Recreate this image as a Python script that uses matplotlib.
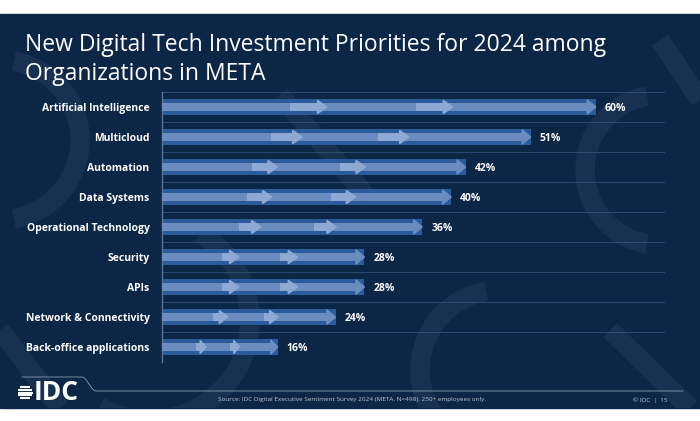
import matplotlib
matplotlib.use("Agg")
import matplotlib.pyplot as plt
from matplotlib.patches import Rectangle, Polygon, Arc
import numpy as np

categories = ["Artificial Intelligence", "Multicloud", "Automation", "Data Systems",
              "Operational Technology", "Security", "APIs", "Network & Connectivity",
              "Back-office applications"]
values = [60, 51, 42, 40, 36, 28, 28, 24, 16]
title_lines = ["New Digital Tech Investment Priorities for 2024 among", "Organizations in META"]
source = "Source: IDC Digital Executive Sentiment Survey 2024 (META, N=498). 250+ employees only."
page = "© IDC  |  15"

NAVY = "#0c2646"
BAR_OUT = "#2b5b9a"
BAR_IN = "#6a8cc0"
BAR_HI = "#8eaad4"
FONT = ["Open Sans", "DejaVu Sans"]

W, H = 700, 421
fig = plt.figure(figsize=(W / 100, H / 100), dpi=100)
fig.patch.set_facecolor("white")

bg = fig.add_axes([0, 0, 1, 1])
bg.set_xlim(0, W)
bg.set_ylim(H, 0)
bg.axis("off")
bg.add_patch(Rectangle((0, 14), W, 394, color=NAVY, zorder=0))

# faint watermark shapes (clipped to the navy band)
clip = Rectangle((0, 14), W, 394, transform=bg.transData)
wm = dict(color="#ffffff", alpha=0.055, zorder=1)
shapes = [
    Arc((660, 170), 150, 150, theta1=100, theta2=260, lw=14, **wm),
    Arc((500, 370), 160, 160, theta1=100, theta2=260, lw=14, **wm),
    Arc((150, 320), 200, 200, theta1=-60, theta2=120, lw=14, **wm),
    Arc((0, 140), 160, 160, theta1=-80, theta2=80, lw=14, **wm),
    Arc((460, 20), 130, 130, theta1=200, theta2=340, lw=14, **wm),
]
for s in shapes:
    bg.add_patch(s)
    s.set_clip_path(clip)
for (xa, ya, xb, yb) in [(280, 95, 370, 200), (0, 330, 60, 408), (660, 40, 700, 100),
                         (610, 330, 690, 408)]:
    ln, = bg.plot([xa, xb], [ya, yb], lw=14, solid_capstyle="butt", **wm)
    ln.set_clip_path(clip)

# title
for k, line in enumerate(title_lines):
    bg.text(25, 45 + 28.5 * k, line, fontsize=16.5, color="white", family=FONT,
            ha="left", va="center", zorder=5)

# chart axes
x0, x1, ytop, ybot = 162, 665, 92, 362
ax = fig.add_axes([x0 / W, (H - ybot) / H, (x1 - x0) / W, (ybot - ytop) / H])
ax.patch.set_alpha(0)
scale = 7.23  # px per percent
ax.set_xlim(0, (x1 - x0) / scale)
n = len(categories)
ax.set_ylim(n - 0.5, -0.5)
for s in ["top", "right", "bottom"]:
    ax.spines[s].set_visible(False)
ax.spines["left"].set_color("#5a7498")
ax.spines["left"].set_linewidth(1.0)
ax.set_xticks([])
ax.set_yticks(range(n))
ax.set_yticklabels(categories, fontsize=7.5, fontweight="bold", color="white", family=FONT)
ax.tick_params(axis="y", length=0, pad=9)

for b in np.arange(-0.5, n, 1.0):
    ax.axhline(b, color="#2d4c73", lw=0.7, zorder=1)

oh, ih = 0.52, 0.27
for i, v in enumerate(values):
    ax.barh(i, v, height=oh, color=BAR_OUT, zorder=2)
    hl = min(1.2, 0.06 * v)
    ax.barh(i, v - hl, height=ih, color=BAR_IN, zorder=3)
    ax.add_patch(Polygon([(v - hl, i - 0.24), (v, i), (v - hl, i + 0.24)],
                         closed=True, color=BAR_IN, zorder=3))
    for f in (0.38, 0.67):
        tip = f * v
        seg = 0.085 * v
        h2 = min(1.3, 0.05 * v)
        ax.barh(i, seg - h2, left=tip - seg, height=ih, color=BAR_HI, zorder=4)
        ax.add_patch(Polygon([(tip - h2, i - 0.22), (tip, i), (tip - h2, i + 0.22)],
                             closed=True, color=BAR_HI, zorder=4))
    ax.text(v + 1.25, i + 0.05, f"{v}%", va="center", ha="left", fontsize=7.5,
            fontweight="bold", color="white", family=FONT, zorder=5)

# footer line
t = np.linspace(0, 1, 30)
cx = np.concatenate([[22, 82], 82 + 14 * t, [683]])
cy = np.concatenate([[377, 377], 377 + 14 * (3 * t ** 2 - 2 * t ** 3), [391]])
bg.plot(cx, cy, color="#8a9bb0", lw=0.6, zorder=5)

# IDC logo
bg.text(34, 392, "IDC", fontsize=19, fontweight="bold", color="white",
        family=FONT, ha="left", va="center", zorder=5)
r = 7.5
cxl, cyl = 25, 392.5
for dy in np.linspace(-5.6, 5.6, 5):
    half = np.sqrt(max(r ** 2 - dy ** 2, 0))
    bg.plot([cxl - half, cxl + half], [cyl + dy, cyl + dy], color="white", lw=1.5,
            solid_capstyle="butt", zorder=5)

bg.text(352, 400, source, fontsize=4.6, color="#c0c9d4", family=FONT,
        ha="center", va="center", zorder=5)
bg.text(650, 400, page, fontsize=4.6, color="#c0c9d4", family=FONT,
        ha="center", va="center", zorder=5)

fig.savefig("out.png", dpi=100, facecolor=fig.get_facecolor())
